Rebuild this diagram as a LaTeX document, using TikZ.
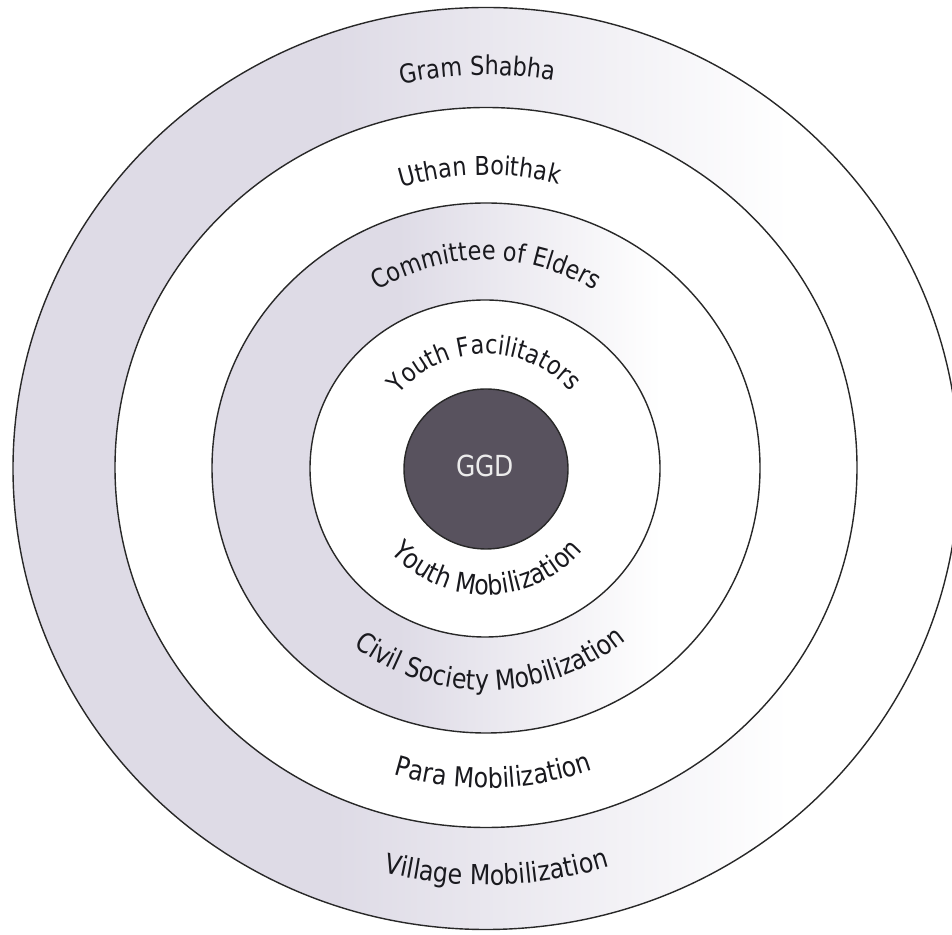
\documentclass[tikz,border=0pt]{standalone}
\usepackage{fontspec}
\newfontfamily\ringfont{DejaVu Sans}[FakeStretch=0.86]
\usetikzlibrary{decorations.text}
\definecolor{shadegray}{RGB}{222,219,230}
\definecolor{coregray}{RGB}{88,82,94}
\definecolor{linegray}{RGB}{40,40,40}
\definecolor{labelgray}{RGB}{25,25,30}
\definecolor{ggdtext}{RGB}{236,236,236}
\pgfdeclarehorizontalshading{ringshade}{100bp}{color(0bp)=(shadegray); color(25bp)=(shadegray); color(42bp)=(shadegray); color(66bp)=(white); color(100bp)=(white)}
\newcommand\rtf{\color{labelgray}\ringfont\fontsize{26}{30}\selectfont}
\newcommand\rbf{\color{labelgray}\ringfont\fontsize{27.5}{32}\selectfont}
\tikzset{
  ringline/.style={draw=linegray, line width=1.4pt},
  arctext/.style={decorate, decoration={text along path, text align=center, text={|\rtf|#1}}},
  arcbottom/.style={decorate, decoration={text along path, text align=center, text={|\rbf|#1}}}
}
\begin{document}
\begin{tikzpicture}[x=1pt,y=1pt]
\useasboundingbox (0,0) rectangle (952,934);
\coordinate (C) at (486,467);
% rings
\begin{scope}
\clip (0,0) rectangle (952,934);
\shadedraw[shading=ringshade, ringline] (486,465.5) ellipse [x radius=473, y radius=461];
\end{scope}
\filldraw[fill=white, ringline] (486,466.5) ellipse [x radius=371, y radius=360];
\shadedraw[shading=ringshade, ringline] (486,466) ellipse [x radius=274, y radius=265];
\filldraw[fill=white, ringline] (485,465.5) ellipse [x radius=175, y radius=168.5];
\filldraw[fill=coregray, ringline] (486,465) ellipse [x radius=82, y radius=80];
\node[text=ggdtext, font=\ringfont\fontsize{29}{33}\selectfont] (ggd) at (485,468) {GGD};
% top labels
\path[arctext={Gram Shabha}] ([shift={(151.2:392)}]C) arc[start angle=151.2, end angle=31.2, radius=392];
\path[arctext={Uthan Boithak}] ([shift={(151.2:292)}]C) arc[start angle=151.2, end angle=31.2, radius=292];
\path[arctext={Committee of Elders}] ([shift={(160:207)}]C) arc[start angle=160, end angle=20, radius=207];
\path[arctext={Youth Facilitators}] ([shift={(176:113)}]C) arc[start angle=176, end angle=6, radius=113];
% bottom labels
\path[arcbottom={Youth Mobilization}] ([shift={(185.5:128)}]C) arc[start angle=185.5, end angle=355.5, radius=128];
\path[arcbottom={Civil Society Mobilization}] ([shift={(196.3:223)}]C) arc[start angle=196.3, end angle=346.3, radius=223];
\path[arcbottom={Para Mobilization}] ([shift={(211.4:321)}]C) arc[start angle=211.4, end angle=331.4, radius=321];
\path[arcbottom={Village Mobilization}] ([shift={(221.5:418)}]C) arc[start angle=221.5, end angle=321.5, radius=418];
\end{tikzpicture}
\end{document}
